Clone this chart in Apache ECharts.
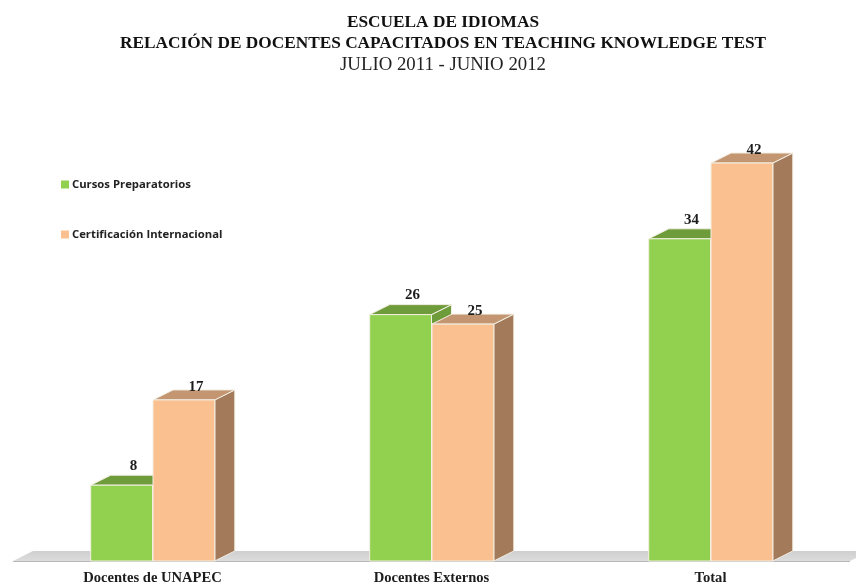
<!DOCTYPE html>
<html><head><meta charset="utf-8">
<style>html,body{margin:0;padding:0;background:#fff}#c{width:856px;height:585px}</style>
<script src="https://cdn.jsdelivr.net/npm/echarts@6/dist/echarts.min.js"></script>
</head><body><div id="c"></div>
<script>
const categories = ['Docentes de UNAPEC', 'Docentes Externos', 'Total'];
const cursos = [8, 26, 34];
const certificacion = [17, 25, 42];
const seriesNames = ['Cursos Preparatorios', 'Certificación Internacional'];
const titleLines = ['ESCUELA DE IDIOMAS', 'RELACIÓN DE DOCENTES CAPACITADOS EN TEACHING KNOWLEDGE TEST', 'JULIO 2011 - JUNIO 2012'];

const serif = '"Liberation Serif", serif';
const DX = 20, DY = 10;
const chart = echarts.init(document.getElementById('c'));

function barSeries(name, values, side, colors, labelGap) {
  return {
    type: 'custom', name, clip: false, z: 3,
    itemStyle: { color: colors.front },
    encode: { x: 0, y: 1 },
    data: values.map((v, i) => [i, v]),
    renderItem(params, api) {
      const val = api.value(1);
      const top = api.coord([api.value(0), val]);
      const base = api.coord([api.value(0), 0]);
      const w = api.size([1, 0])[0] * 0.2215;
      const x0 = side < 0 ? top[0] - w : top[0] + 0.5;
      const x1 = x0 + w;
      const y0 = top[1], y1 = base[1];
      const edge = { stroke: '#f3efe4', lineWidth: 1 };
      return {
        type: 'group',
        children: [
          { type: 'polygon', shape: { points: [[x1, y0], [x1 + DX, y0 - DY], [x1 + DX, y1 - DY], [x1, y1]] }, style: { fill: colors.side, ...edge } },
          { type: 'polygon', shape: { points: [[x0, y0], [x0 + DX, y0 - DY], [x1 + DX, y0 - DY], [x1, y0]] }, style: { fill: colors.top, ...edge } },
          { type: 'rect', shape: { x: x0, y: y0, width: w, height: y1 - y0 }, style: { fill: colors.front, ...edge } },
          { type: 'text', x: (x0 + x1) / 2 + DX / 2 + 2, y: y0 - labelGap, style: {
              text: String(val), fill: '#1c1c1c', font: 'bold 15px ' + serif, align: 'center', verticalAlign: 'middle' } }
        ]
      };
    }
  };
}

chart.setOption({
  animation: false,
  backgroundColor: '#fff',
  title: [
    { text: titleLines[0], left: 438, top: 9, textAlign: 'center', textStyle: { fontFamily: serif, fontWeight: 'bold', fontSize: 17.3, color: '#111' } },
    { text: titleLines[1], left: 438, top: 30, textAlign: 'center', textStyle: { fontFamily: serif, fontWeight: 'bold', fontSize: 17.3, color: '#111' } },
    { text: titleLines[2], left: 438, top: 51, textAlign: 'center', textStyle: { fontFamily: serif, fontWeight: 'normal', fontSize: 18.8, color: '#222' } }
  ],
  legend: {
    data: seriesNames, orient: 'vertical', left: 56, top: 174, itemWidth: 8, itemHeight: 8, itemGap: 39,
    icon: 'rect', selectedMode: false,
    textStyle: { fontFamily: '"Open Sans", sans-serif', fontWeight: 'bold', fontSize: 11.3, color: '#222', padding: [0, 0, 0, -2] }
  },
  grid: { left: 13, right: 6, top: 87.2, bottom: 24, outerBoundsMode: 'none' },
  xAxis: {
    type: 'category', data: categories,
    axisLine: { show: false }, axisTick: { show: false }, splitLine: { show: false },
    axisLabel: { fontFamily: serif, fontWeight: 'bold', fontSize: 14.6, color: '#1c1c1c', margin: 10 }
  },
  yAxis: { type: 'value', min: 0, max: 50, show: false, splitLine: { show: false } },
  series: [
    {
      type: 'custom', name: 'floor', silent: true, clip: false, z: 1,
      encode: { x: 0, y: 1 }, data: [[0, 0]],
      renderItem(params, api) {
        const base = api.coord([0, 0]);
        const cs = params.coordSys;
        const l = cs.x, r = cs.x + cs.width;
        return {
          type: 'group',
          children: [
            { type: 'polygon', shape: { points: [[l, base[1]], [l + DX, base[1] - DY], [r + DX, base[1] - DY], [r, base[1]]] },
              style: { fill: new echarts.graphic.LinearGradient(0, 0, 0, 1, [{ offset: 0, color: '#cfcfcf' }, { offset: 1, color: '#dcdcdc' }]) } },
            { type: 'line', shape: { x1: l, y1: base[1] + 0.5, x2: r, y2: base[1] + 0.5 }, style: { stroke: '#b9b9b9', lineWidth: 1 } }
          ]
        };
      }
    },
    barSeries(seriesNames[0], cursos, -1, { front: '#92d050', side: '#6f9c3b', top: '#6f9c3b' }, 19),
    barSeries(seriesNames[1], certificacion, 1, { front: '#fac08f', side: '#a37b5a', top: '#c39671' }, 13)
  ]
});
</script></body></html>
